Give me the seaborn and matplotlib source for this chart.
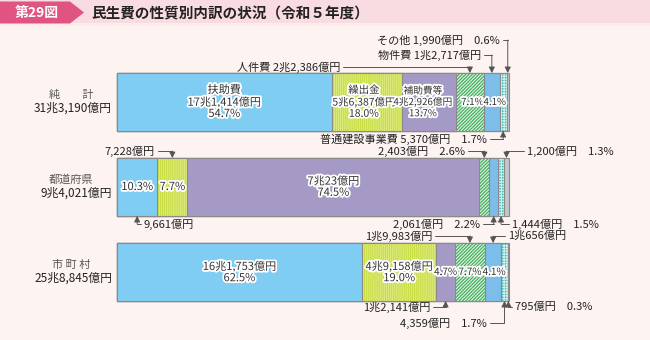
import numpy as np
import pandas as pd
import matplotlib
matplotlib.use('Agg')
import matplotlib.pyplot as plt
import seaborn as sns
from matplotlib import patheffects as pe
from matplotlib.patches import Polygon, Rectangle

# ---------------- data ----------------
regions = ['純計', '都道府県', '市町村']
region_labels = ['純　　計', '都道府県', '市 町 村']
region_totals = [313190, 94021, 258845]  # 億円
categories = ['扶助費', '繰出金', '補助費等', '人件費', '物件費', '普通建設事業費', 'その他']
amt_junkei = [171414, 56387, 42926, 22386, 12717, 5370, 1990]   # 億円
amt_pref = [9661, 7228, 70023, 2403, 2061, 1444, 1200]
amt_muni = [161753, 49158, 12141, 19983, 10656, 4359, 795]
pct_junkei = [54.7, 18.0, 13.7, 7.1, 4.1, 1.7, 0.6]
pct_pref = [10.3, 7.7, 74.5, 2.6, 2.2, 1.5, 1.3]
pct_muni = [62.5, 19.0, 4.7, 7.7, 4.1, 1.7, 0.3]
title_label = '第29図'
title_text = '民生費の性質別内訳の状況（令和５年度）'

amounts = [amt_junkei, amt_pref, amt_muni]
pcts = [pct_junkei, pct_pref, pct_muni]

# ---------------- style ----------------
sns.set_theme(style='white')
plt.rcParams['font.family'] = ['Noto Sans CJK JP', 'DejaVu Sans']
plt.rcParams['hatch.linewidth'] = 0.9

face = ['#7fcdf2', '#c6db3c', '#a59ac6', '#e2f3df', '#7dbde9', '#3db5ad', '#c3c6cc']
hatch = [None, '||||||||', None, '//////////', None, '++++++', None]
hcol = ['#7fcdf2', '#dbe978', '#a59ac6', '#45b062', '#7dbde9', '#c9efec', '#c3c6cc']
BG = '#fdf4f2'


def oku(v):
    cho, rest = divmod(int(v), 10000)
    if cho == 0:
        return f'{rest:,}億円'
    if rest == 0:
        return f'{cho}兆円'
    return f'{cho}兆{rest:,}億円'


# long table with shares and cumulative ends
rows = []
for r, reg in enumerate(regions):
    a = np.array(amounts[r], dtype=float)
    share = a / a.sum() * 100
    cum = np.cumsum(share)
    for k, cat in enumerate(categories):
        rows.append(dict(region=reg, cat=cat, k=k, amt=amounts[r][k], pct=pcts[r][k],
                         share=share[k], cum=cum[k], mid=cum[k] - share[k] / 2))
df = pd.DataFrame(rows)

# ---------------- figure ----------------
W, H = 650, 340
fig = plt.figure(figsize=(6.5, 3.4), dpi=100, facecolor=BG)
ax = fig.add_axes([0, 0, 1, 1])
ax.set_facecolor('none')

X0, XS = 117, 3.92   # pixel of 0%, pixels per %
Y0, YS = 102, 85     # pixel of first row centre, pixels per row
BW = 0.68


def X(px):
    return (px - X0) / XS


def Y(py):
    return (py - Y0) / YS


for k in reversed(range(len(categories))):
    sub = df[df.k == k]
    sns.barplot(data=sub, x='cum', y='region', order=regions, orient='h',
                color=face[k], hatch=hatch[k], edgecolor=hcol[k], linewidth=0,
                width=BW, saturation=1, errorbar=None, ax=ax)
    sns.barplot(data=sub, x='cum', y='region', order=regions, orient='h',
                color='#8a8a8a', fill=False, linewidth=0.8,
                width=BW, saturation=1, errorbar=None, ax=ax)

ax.set_xlim(X(0), X(W))
ax.set_ylim(Y(H), Y(0))
ax.axis('off')

halo = [pe.withStroke(linewidth=2.6, foreground='white')]

# ---------------- in-bar labels ----------------
# (row, cat): (parts, fontsize, x shift in px)
inbar = {
    (0, 0): (('name', 'amt', 'pct'), 8, 0), (0, 1): (('name', 'amt', 'pct'), 7.5, -3),
    (0, 2): (('name', 'amt', 'pct'), 7, -6),
    (0, 3): (('pct',), 7, 2.5), (0, 4): (('pct',), 7, 3),
    (1, 0): (('pct',), 8, 0), (1, 1): (('pct',), 8, 0), (1, 2): (('amt', 'pct'), 8, 0),
    (2, 0): (('amt', 'pct'), 8, 0), (2, 1): (('amt', 'pct'), 8, 0),
    (2, 2): (('pct',), 7.2, 0), (2, 3): (('pct',), 7.2, 0), (2, 4): (('pct',), 7.2, 1),
}
for (r, k), (parts, fs, dx) in inbar.items():
    row = df[(df.region == regions[r]) & (df.k == k)].iloc[0]
    lines = []
    for p in parts:
        if p == 'name':
            lines.append(categories[k])
        elif p == 'amt':
            lines.append(oku(row.amt))
        else:
            lines.append(f'{row.pct:.1f}%')
    ax.text(row.mid + dx / XS, r, '\n'.join(lines), ha='center', va='center', fontsize=fs,
            color='#333333', linespacing=1.15, path_effects=halo, zorder=5)

# ---------------- call-outs ----------------
callouts = [
    (0, 6, 'top', ('name', 'amt', 'pct'), 500, 40, 'right'),
    (0, 4, 'top', ('name', 'amt'), 481, 55, 'right'),
    (0, 3, 'top', ('name', 'amt'), 340, 67, 'right'),
    (0, 5, 'bottom', ('name', 'amt', 'pct'), 487, 139, 'right'),
    (1, 1, 'top', ('amt',), 155, 151, 'right'),
    (1, 3, 'top', ('amt', 'pct'), 465, 151, 'right'),
    (1, 6, 'top', ('amt', 'pct'), 527, 151, 'left'),
    (1, 0, 'bottom', ('amt',), 144, 224, 'left'),
    (1, 4, 'bottom', ('amt', 'pct'), 480, 224, 'right'),
    (1, 5, 'bottom', ('amt', 'pct'), 512, 224, 'left'),
    (2, 3, 'top', ('amt',), 432, 236, 'right'),
    (2, 4, 'top', ('amt',), 508, 236, 'left'),
    (2, 2, 'bottom', ('amt',), 430, 307, 'right'),
    (2, 5, 'bottom', ('amt', 'pct'), 487, 323, 'right'),
    (2, 6, 'bottom', ('amt', 'pct'), 515, 307, 'left'),
]
LC = '#555555'
for r, k, side, parts, tx, ty, ha in callouts:
    row = df[(df.region == regions[r]) & (df.k == k)].iloc[0]
    s = ''
    if 'name' in parts:
        s += categories[k] + ' '
    if 'amt' in parts:
        s += oku(row.amt)
    if 'pct' in parts:
        s += '　' + f'{row.pct:.1f}%'
    ax.text(X(tx), Y(ty), s, ha=ha, va='center', fontsize=8, color='#222222', zorder=6)
    lx = tx + 3 if ha == 'right' else tx - 3
    cx = row.mid
    edge = r - BW / 2 if side == 'top' else r + BW / 2
    ax.plot([X(lx), cx], [Y(ty), Y(ty)], color=LC, lw=0.7, zorder=6)
    ax.annotate('', xy=(cx, edge), xytext=(cx, Y(ty)),
                arrowprops=dict(arrowstyle='-|>,head_length=0.3,head_width=0.15',
                                color=LC, lw=0.7, shrinkA=0, shrinkB=0), zorder=6)

# ---------------- row labels ----------------
for r in range(len(regions)):
    cy = Y0 + YS * r
    ax.text(X(71), Y(cy - 7), region_labels[r], ha='center', va='center',
            fontsize=8, color='#555555')
    ax.text(X(112), Y(cy + 6), oku(region_totals[r]), ha='right', va='center',
            fontsize=8.5, color='#222222')


# ---------------- title band ----------------
def fp(px, py):
    return (px / W, 1 - py / H)


fig.add_artist(Rectangle(fp(0, 23), 1, 23 / H, transform=fig.transFigure,
                         facecolor='#f9dce2', edgecolor='none', zorder=0))
fig.add_artist(Rectangle(fp(0, 26), 1, 3 / H, transform=fig.transFigure,
                         facecolor='#fcecef', edgecolor='none', zorder=0))
fig.add_artist(Polygon([fp(0, 1.5), fp(70, 1.5), fp(84, 12.5), fp(70, 23.5), fp(0, 23.5)],
                       closed=True, transform=fig.transFigure,
                       facecolor='#df5480', edgecolor='none', zorder=1))
fig.text(*fp(37, 13), title_label, ha='center', va='center', color='white',
         fontsize=10, fontweight='bold', zorder=2)
fig.text(*fp(91, 13), title_text, ha='left', va='center', color='#222222',
         fontsize=10.5, fontweight='bold', zorder=2)

fig.savefig('out.png', dpi=100, facecolor=BG)
